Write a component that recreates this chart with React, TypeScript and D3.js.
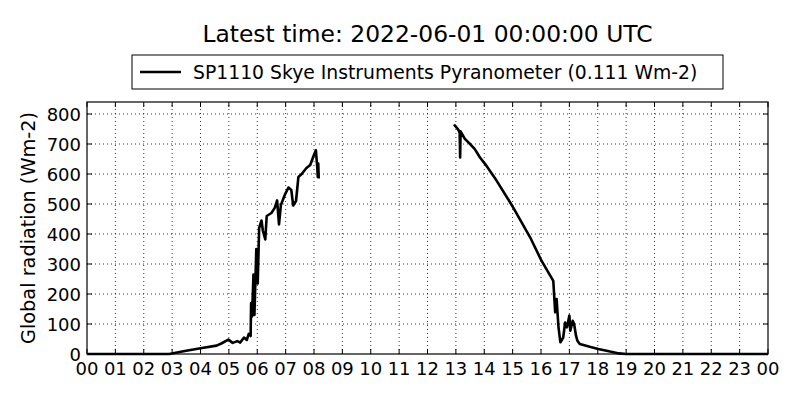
import * as d3 from 'd3'
import React from 'react'

// readings as "HH:MM" (UTC) and Wm-2; null marks the data gap
const times = [
  '00:00', '01:00', '02:00', '02:54', '03:24', '04:00', '04:34', '04:44', '04:59', '05:08',
  '05:18', '05:24', '05:32', '05:38', '05:42', '05:46', '05:47', '05:49', '05:52', '05:54',
  '05:58', '06:01', '06:04', '06:09', '06:12', '06:17', '06:20', '06:30', '06:37', '06:42',
  '06:46', '06:50', '06:59', '07:06', '07:12', '07:16', '07:22', '07:27', '07:34', '07:44',
  '07:52', '07:59', '08:04', '08:07', '08:08', '08:09', '08:10', '08:11',
  '12:56', '13:05', '13:08', '13:09', '13:10', '13:19', '13:30', '13:40', '13:51', '14:02',
  '14:26', '15:01', '15:37', '16:01', '16:26', '16:30', '16:33', '16:37', '16:41', '16:47',
  '16:51', '16:55', '17:00', '17:02', '17:07', '17:10', '17:14', '17:17', '17:22', '17:43',
  '18:01', '18:26', '18:45', '19:00', '20:00', '22:00', '24:00',
]
const values: (number | null)[] = [
  0, 0, 0, 0, 9, 19, 28, 35, 48, 37,
  43, 38, 55, 47, 67, 60, 170, 125, 265, 130,
  350, 235, 420, 445, 410, 382, 460, 470, 487, 512,
  432, 497, 533, 555, 547, 495, 510, 590, 600, 620,
  630, 660, 679, 620, 590, 635, 585, null,
  765, 748, 738, 655, 742, 717, 700, 683, 655, 633,
  578, 489, 389, 311, 244, 139, 183, 89, 39, 55,
  105, 89, 128, 78, 111, 100, 61, 44, 33, 24,
  17, 8, 2, 0, 0, 0, 0,
]
const yTicks = [0, 100, 200, 300, 400, 500, 600, 700, 800]

const title = 'Latest time: 2022-06-01 00:00:00 UTC'
const legendLabel = 'SP1110 Skye Instruments Pyranometer (0.111 Wm-2)'
const yLabel = 'Global radiation (Wm-2)'

const day = Date.UTC(2022, 5, 1)
const toDate = (t: string) => {
  const [h, m] = t.split(':').map(Number)
  return new Date(day + (h * 60 + m) * 60000)
}
const data = times.map((t, i) => ({ time: toDate(t), value: values[i] }))

const margin = { top: 102, right: 32, bottom: 46, left: 87 }
const W = 800
const H = 400
const font = 'DejaVu Sans, sans-serif'

const App = () => {
  const x = d3
    .scaleUtc()
    .domain([new Date(day), new Date(day + 24 * 3600000)])
    .range([margin.left, W - margin.right])
  const y = d3
    .scaleLinear()
    .domain([0, 840])
    .range([H - margin.bottom, margin.top])

  const xTicks = x.ticks(d3.utcHour.every(1)!)
  const fmt = d3.utcFormat('%H')

  const line = d3
    .line<{ time: Date; value: number | null }>()
    .defined((d) => d.value !== null)
    .x((d) => x(d.time))
    .y((d) => y(d.value as number))

  const x0 = margin.left
  const x1 = W - margin.right
  const y0 = H - margin.bottom
  const y1 = margin.top
  const tick = 5

  return (
    <svg width={W} height={H} style={{ position: 'absolute', left: 0, top: 0 }} fontFamily={font}>
      <rect width={W} height={H} fill="#fff" />
      {/* grid */}
      <g stroke="#000" strokeWidth={0.8} strokeDasharray="1,3">
        {xTicks.slice(1, -1).map((t, i) => (
          <line key={i} x1={x(t)} x2={x(t)} y1={y0} y2={y1} />
        ))}
        {yTicks.slice(1).map((v) => (
          <line key={v} x1={x0} x2={x1} y1={y(v)} y2={y(v)} />
        ))}
      </g>
      {/* ticks, inward on all sides */}
      <g stroke="#000" strokeWidth={1}>
        {xTicks.map((t, i) => (
          <g key={i}>
            <line x1={x(t)} x2={x(t)} y1={y0} y2={y0 - tick} />
            <line x1={x(t)} x2={x(t)} y1={y1} y2={y1 + tick} />
          </g>
        ))}
        {yTicks.map((v) => (
          <g key={v}>
            <line x1={x0} x2={x0 + tick} y1={y(v)} y2={y(v)} />
            <line x1={x1} x2={x1 - tick} y1={y(v)} y2={y(v)} />
          </g>
        ))}
      </g>
      <path d={line(data) ?? ''} fill="none" stroke="#000" strokeWidth={2.6} strokeLinejoin="round" />
      <rect x={x0} y={y1} width={x1 - x0} height={y0 - y1} fill="none" stroke="#000" strokeWidth={1.2} />
      {/* tick labels */}
      <g fontSize={18} fill="#000">
        {xTicks.map((t, i) => (
          <text key={i} x={x(t)} y={y0 + 21} textAnchor="middle">
            {fmt(t)}
          </text>
        ))}
        {yTicks.map((v) => (
          <text key={v} x={x0 - 6} y={y(v) + 6.5} textAnchor="end">
            {v}
          </text>
        ))}
      </g>
      <text x={(x0 + x1) / 2} y={42} textAnchor="middle" fontSize={23.4}>
        {title}
      </text>
      <text
        transform={`translate(35,${(y0 + y1) / 2}) rotate(-90)`}
        textAnchor="middle"
        fontSize={19.3}
      >
        {yLabel}
      </text>
      {/* legend */}
      <g>
        <rect x={132} y={55} width={591} height={34} fill="#fff" stroke="#000" strokeWidth={1} />
        <line x1={140} x2={181} y1={72} y2={72} stroke="#000" strokeWidth={2.6} />
        <text x={193} y={79} fontSize={18.8}>
          {legendLabel}
        </text>
      </g>
    </svg>
  )
}

export default App
